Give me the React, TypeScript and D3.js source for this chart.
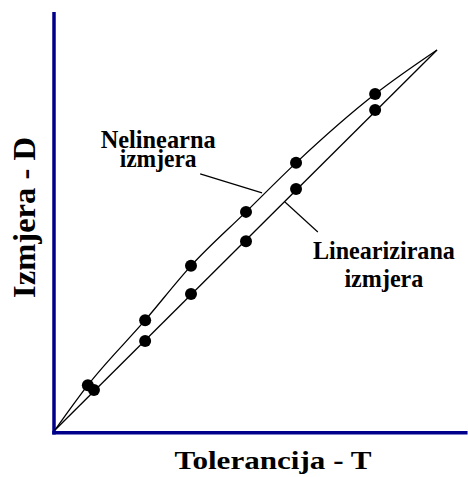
import React from "react";
import * as d3 from "d3";

// Tolerance (T) positions of the measured points
const nonlinearT = [8.6, 23.6, 35.6, 50, 63.1, 83.8];
const nonlinearD = [11.8, 28.9, 43.2, 57.4, 70.3, 88.4];
const linearT = [10.2, 23.6, 35.6, 50, 63.1, 83.8];
const linearD = [10.5, 23.4, 35.8, 49.7, 63.4, 84.2];
// curve end points
const startT = 0;
const startD = 0;
const endT = 100;
const endD = 100;

const xLabel = "Tolerancija - T";
const yLabel = "Izmjera - D";
const nonlinearLabel = ["Nelinearna", "izmjera"];
const linearLabel = ["Linearizirana", "izmjera"];

const W = 468;
const H = 477;

export default function App() {
  const x = d3.scaleLinear().domain([0, 108]).range([55, 55 + 382 * 1.08]);
  const y = d3.scaleLinear().domain([0, 110]).range([430, 430 - 380 * 1.1]);

  const nlPts: [number, number][] = [
    [startT, startD],
    ...nonlinearT.map((t, i) => [t, nonlinearD[i]] as [number, number]),
    [endT, endD],
  ];
  const linPts: [number, number][] = [
    [startT, startD],
    [endT, endD],
  ];

  const curve = d3
    .line<[number, number]>()
    .x((d) => x(d[0]))
    .y((d) => y(d[1]))
    .curve(d3.curveMonotoneX);
  const straight = d3
    .line<[number, number]>()
    .x((d) => x(d[0]))
    .y((d) => y(d[1]));

  const fontStyle = {
    fontFamily: '"Liberation Serif", "Times New Roman", Times, serif',
    fontWeight: 700,
  } as React.CSSProperties;
  const navy = "#00008B";

  return (
    <svg
      width={W}
      height={H}
      style={{ position: "absolute", left: 0, top: 0, background: "#fff" }}
    >
      {/* axes */}
      <line
        x1={x(0) - 1}
        x2={x(0) - 1}
        y1={y(110)}
        y2={y(0) + 4.5}
        stroke={navy}
        strokeWidth={3.5}
      />
      <line
        x1={x(0) - 2.75}
        x2={x(108)}
        y1={y(0) + 2.75}
        y2={y(0) + 2.75}
        stroke={navy}
        strokeWidth={3.5}
      />

      {/* lines */}
      <path d={curve(nlPts) || ""} fill="none" stroke="#000" strokeWidth={1.3} />
      <path d={straight(linPts) || ""} fill="none" stroke="#000" strokeWidth={1.3} />

      {/* leader lines */}
      <line x1={x(38)} y1={y(67.4)} x2={x(54.2)} y2={y(62.4)} stroke="#000" strokeWidth={1.2} />
      <line x1={x(60.2)} y1={y(60)} x2={x(68.8)} y2={y(52.1)} stroke="#000" strokeWidth={1.2} />

      {/* points */}
      {nonlinearT.map((t, i) => (
        <circle key={"n" + i} cx={x(t)} cy={y(nonlinearD[i])} r={6} fill="#000" />
      ))}
      {linearT.map((t, i) => (
        <circle key={"l" + i} cx={x(t)} cy={y(linearD[i])} r={6} fill="#000" />
      ))}

      {/* annotation labels */}
      <g style={{ ...fontStyle, fontSize: "24.5px" }} textAnchor="middle" fill="#000">
        <text x={x(27)} y={y(74.2)} textLength={115} lengthAdjust="spacingAndGlyphs">
          {nonlinearLabel[0]}
        </text>
        <text x={x(27)} y={y(69.3)} textLength={77} lengthAdjust="spacingAndGlyphs">
          {nonlinearLabel[1]}
        </text>
        <text x={x(86.1)} y={y(44.9)} textLength={142} lengthAdjust="spacingAndGlyphs">
          {linearLabel[0]}
        </text>
        <text x={x(86.1)} y={y(37.7)} textLength={79} lengthAdjust="spacingAndGlyphs">
          {linearLabel[1]}
        </text>
      </g>

      {/* axis titles */}
      <text
        x={273}
        y={469}
        style={{ ...fontStyle, fontSize: "26px" }}
        textAnchor="middle"
        textLength={197}
        lengthAdjust="spacingAndGlyphs"
      >
        {xLabel}
      </text>
      <text
        transform="translate(35,217.5) rotate(-90)"
        style={{ ...fontStyle, fontSize: "32px" }}
        textAnchor="middle"
        textLength={161}
        lengthAdjust="spacingAndGlyphs"
      >
        {yLabel}
      </text>
    </svg>
  );
}
